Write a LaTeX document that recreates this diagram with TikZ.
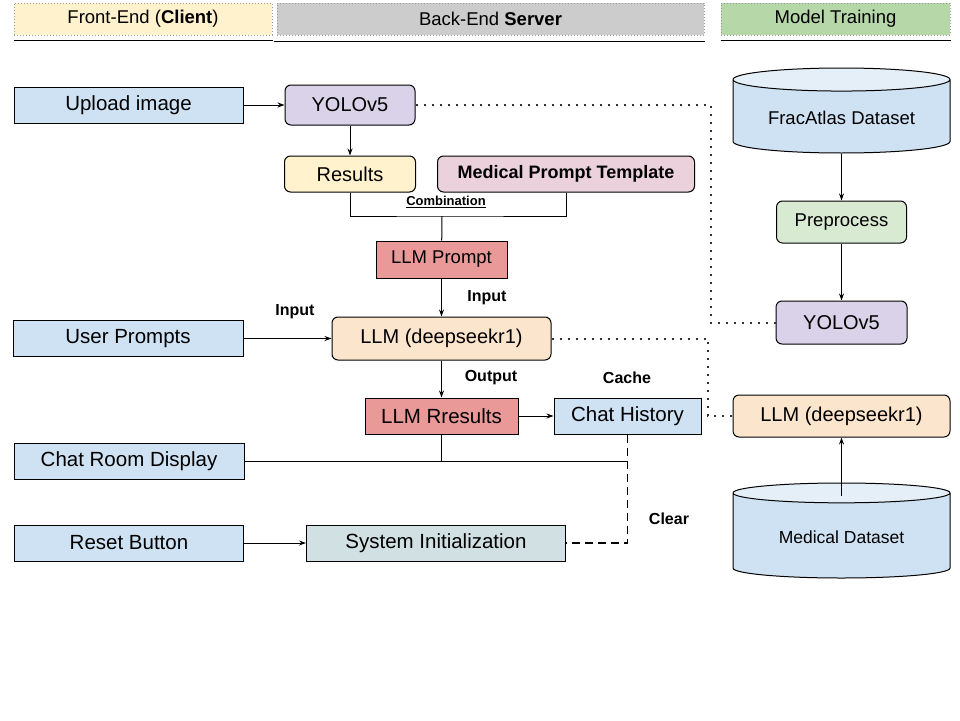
\documentclass[tikz,border=0pt]{standalone}
\usepackage{fontspec}
\setmainfont{Liberation Sans}
\usetikzlibrary{arrows.meta,positioning,shapes.geometric}
\definecolor{ui-blue}{HTML}{CFE2F3}
\definecolor{ui-lavender}{HTML}{D9D2E9}
\definecolor{ui-yellow}{HTML}{FFF2CC}
\definecolor{ui-pink}{HTML}{EAD1DC}
\definecolor{ui-red}{HTML}{EA9999}
\definecolor{ui-peach}{HTML}{FCE5CD}
\definecolor{ui-green}{HTML}{D9EAD3}
\definecolor{ui-teal}{HTML}{D0E0E3}
\definecolor{head-gray}{HTML}{CCCCCC}
\definecolor{head-green}{HTML}{B6D7A8}

\begin{document}
\begin{tikzpicture}[
    x=1pt, y=-1pt, line width=1pt,
    box/.style={rectangle, draw=black, minimum width=230pt, minimum height=36pt,
                inner sep=2pt, align=center, font=\fontsize{20.5}{24}\selectfont},
    rbox/.style={box, rounded corners=6pt, font=\fontsize{20}{24}\selectfont},
    head/.style={rectangle, draw=gray!80, dotted, minimum height=32pt,
                 font=\fontsize{18.5}{22}\selectfont},
    db/.style={cylinder, shape border rotate=90, aspect=0.15, draw=black,
               cylinder uses custom fill, cylinder body fill=ui-blue,
               cylinder end fill=ui-blue!55!white,
               minimum width=217pt, font=\fontsize{18.5}{22}\selectfont},
    lbl/.style={font=\bfseries\fontsize{16}{19}\selectfont},
    arrow/.style={-{Stealth[length=7pt,width=5pt]}},
    dots/.style={line width=2pt, dash pattern=on 2pt off 6pt, black!80}
]
  \useasboundingbox (0,0) rectangle (960,720);

  % Headers
  \node[head, fill=ui-yellow, minimum width=258pt] (hfront) at (143,19) {Front-End (\textbf{Client})};
  \node[head, fill=head-gray, minimum width=427pt] (hback) at (490.5,19) {Back-End \textbf{Server}};
  \node[head, fill=head-green, minimum width=229pt] (hmodel) at (835.5,19) {Model Training};
  \draw[line width=1.5pt] ([yshift=-5pt]hfront.south west) -- ([yshift=-5pt]hfront.south east);
  \draw[line width=1.5pt] ([xshift=-3pt,yshift=-6pt]hback.south west) -- ([yshift=-6pt]hback.south east);
  \draw[line width=1.5pt] ([yshift=-5pt]hmodel.south west) -- ([yshift=-5pt]hmodel.south east);

  % Front-End
  \node[box, fill=ui-blue, minimum width=229pt] (upload) at (128.5,105) {Upload image};
  \node[box, fill=ui-blue] (crd) at (129,461) {Chat Room Display};
  \node[box, fill=ui-blue, minimum width=229pt, below=45pt of crd] (reset) {Reset Button};

  % Back-End
  \node[rbox, fill=ui-lavender, minimum width=130pt, minimum height=40pt, right=41pt of upload] (yolo) {YOLOv5};
  \node[rbox, fill=ui-yellow, minimum width=131pt, below=30pt of yolo] (results) {Results};
  \node[rbox, fill=ui-pink, minimum width=257pt, right=21pt of results,
        font=\bfseries\fontsize{18}{22}\selectfont] (mpt) {Medical Prompt Template};
  \node[font=\bfseries\fontsize{13}{15}\selectfont] (comb) at (446,202) {\underline{Combination}};
  \coordinate (join) at (442,216);
  \node[box, fill=ui-red, minimum width=131pt, minimum height=37pt,
        font=\fontsize{18.5}{22}\selectfont] (prompt) at (441.5,259.5) {LLM Prompt};
  \node[rbox, fill=ui-peach, minimum width=219pt, minimum height=43pt, below=38pt of prompt] (llm) {LLM (deepseekr1)};
  \node[box, fill=ui-blue, left=88pt of llm] (uprompt) {User Prompts};
  \node[box, fill=ui-red, minimum width=153pt, below=37pt of llm] (rres) {LLM Rresults};
  \node[box, fill=ui-blue, minimum width=147pt, right=35pt of rres] (chat) {Chat History};
  \node[box, fill=ui-teal, minimum width=259pt, right=62pt of reset] (sysinit) {System Initialization};

  % Model Training
  \node[db, minimum height=85pt, below=32pt of hmodel, xshift=6pt] (frac) {FracAtlas Dataset};
  \node[rbox, fill=ui-green, minimum width=130pt, minimum height=42pt, below=47pt of frac,
        font=\fontsize{18.5}{22}\selectfont] (prep) {Preprocess};
  \node[rbox, fill=ui-lavender, minimum width=131pt, minimum height=43pt, below=57pt of prep] (yolo2) {YOLOv5};
  \node[rbox, fill=ui-peach, minimum width=217pt, minimum height=42pt, below=50pt of yolo2] (llm2) {LLM (deepseekr1)};
  \node[db, minimum height=95pt, below=45pt of llm2, font=\fontsize{17.5}{21}\selectfont] (med) {Medical Dataset};

  % Labels
  \node[lbl] (lin1) at (295,312) {Input};
  \node[lbl] (lin2) at (487,298) {Input};
  \node[lbl] (lout) at (491,378) {Output};
  \node[lbl] (lcache) at (627,378) {Cache};
  \node[lbl] (lclear) at (669,519) {Clear};

  % Arrows
  \draw[arrow] (upload) -- (yolo);
  \draw[arrow] (yolo) -- (results);
  \draw (results.south) |- (join) -| (mpt.south);
  \draw (join) -- (prompt);
  \draw[arrow] (prompt) -- (llm);
  \draw[arrow] (uprompt) -- (llm);
  \draw[arrow] (llm) -- (rres);
  \draw[arrow] (rres) -- (chat);
  \coordinate (jchat) at (chat.south |- crd.east);
  \draw (rres.south) |- (crd.east);
  \draw (crd.east) -- (jchat);
  \draw[line width=1.8pt, dash pattern=on 8pt off 5pt] (chat.south) |- (sysinit.east);
  \draw[arrow] (reset) -- (sysinit);
  \draw[arrow] (frac) -- (prep);
  \draw[arrow] (prep) -- (yolo2);
  \draw[arrow, shorten <=-13pt] (med) -- (llm2);

  % Dotted links
  \coordinate (d1) at (711,200);
  \coordinate (d2) at (708,380);
  \draw[dots] (yolo.east) -| (d1) |- (yolo2.west);
  \draw[dots] (llm.east) -| (d2) |- (llm2.west);

\end{tikzpicture}
\end{document}
